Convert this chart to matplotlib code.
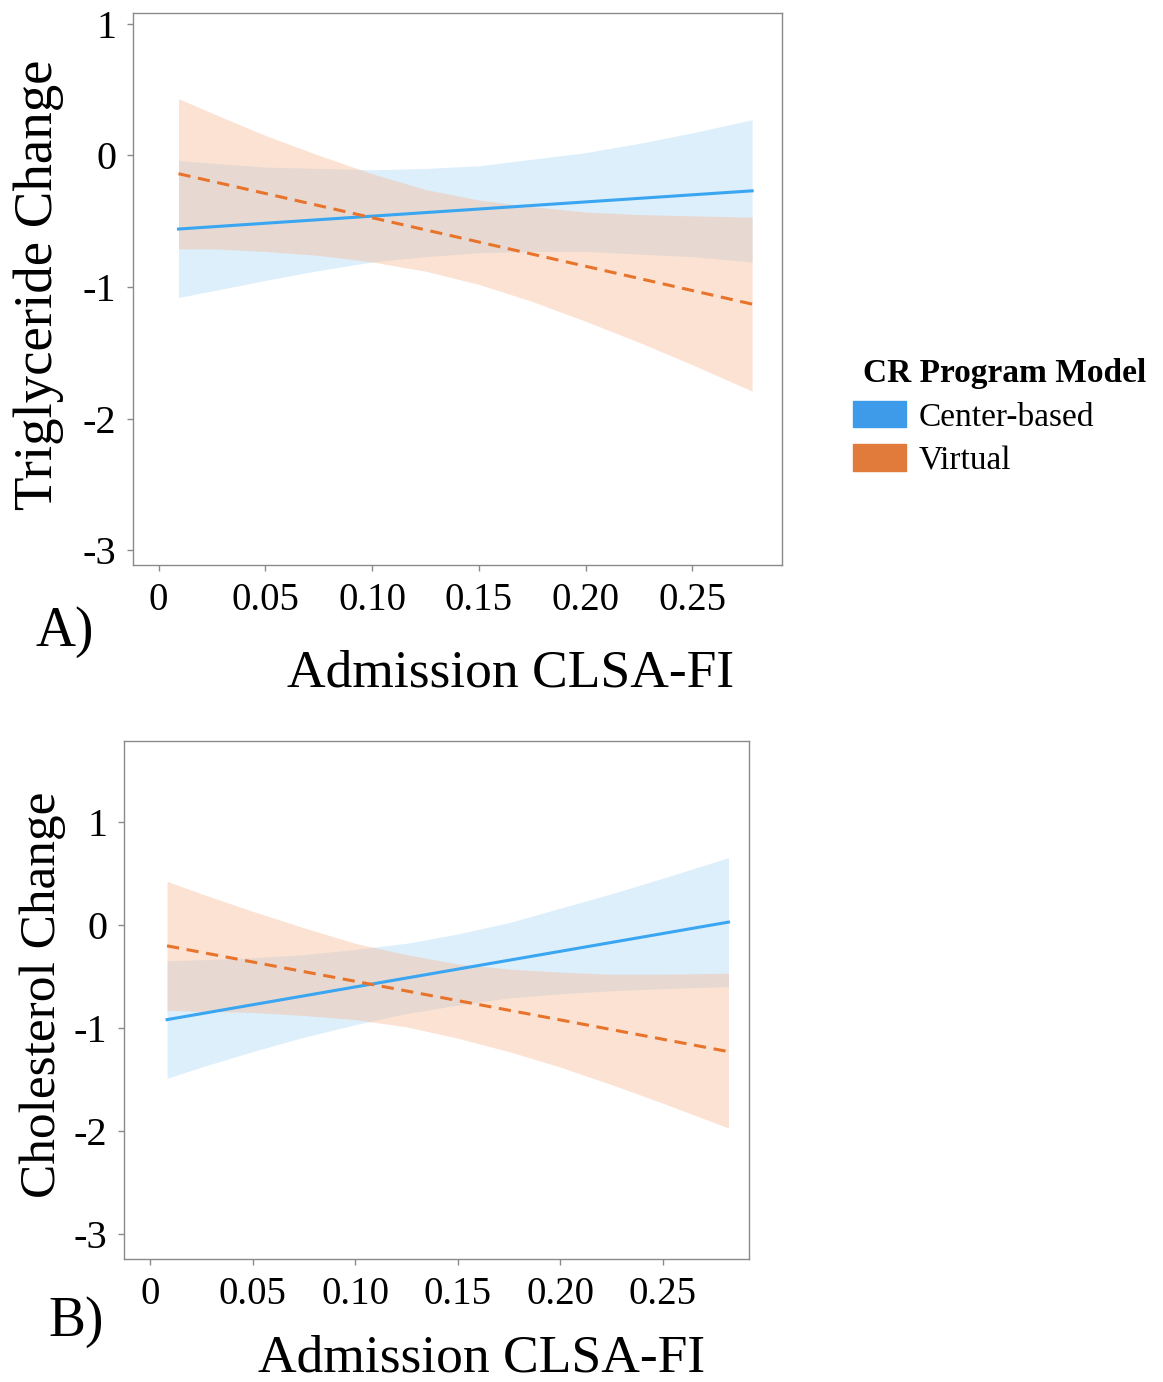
import matplotlib
matplotlib.use("Agg")
import matplotlib.pyplot as plt
from matplotlib.patches import Patch

plt.rcParams["font.family"] = ["Liberation Serif", "DejaVu Serif"]

xa = [0.0093, 0.025, 0.05, 0.075, 0.10, 0.125, 0.15, 0.175, 0.20, 0.225, 0.25, 0.278]
xb = [0.0083, 0.025, 0.05, 0.075, 0.10, 0.125, 0.15, 0.175, 0.20, 0.225, 0.25, 0.282]
# fitted lines are straight, so only their end points
xa_ends = [0.0093, 0.278]
xb_ends = [0.0083, 0.282]

# panel A - triglyceride
trig_center_fit = [-0.56, -0.27]
trig_center_lo = [-1.08, -1.03, -0.95, -0.875, -0.81, -0.77, -0.74, -0.73, -0.73, -0.75, -0.77, -0.81]
trig_center_hi = [-0.04, -0.06, -0.09, -0.10, -0.11, -0.10, -0.08, -0.03, 0.02, 0.09, 0.17, 0.27]
trig_virtual_fit = [-0.14, -1.13]
trig_virtual_lo = [-0.71, -0.71, -0.73, -0.76, -0.81, -0.88, -0.98, -1.11, -1.26, -1.42, -1.59, -1.79]
trig_virtual_hi = [0.43, 0.32, 0.15, 0.0, -0.14, -0.26, -0.34, -0.39, -0.43, -0.45, -0.46, -0.47]

# panel B - cholesterol
chol_center_fit = [-0.92, 0.025]
chol_center_lo = [-1.49, -1.38, -1.23, -1.09, -0.97, -0.86, -0.78, -0.71, -0.67, -0.64, -0.62, -0.60]
chol_center_hi = [-0.35, -0.34, -0.32, -0.29, -0.24, -0.18, -0.09, 0.02, 0.16, 0.30, 0.45, 0.65]
chol_virtual_fit = [-0.205, -1.23]
chol_virtual_lo = [-0.83, -0.84, -0.85, -0.88, -0.92, -0.99, -1.10, -1.23, -1.38, -1.55, -1.73, -1.97]
chol_virtual_hi = [0.42, 0.30, 0.13, -0.03, -0.18, -0.29, -0.38, -0.43, -0.46, -0.48, -0.48, -0.47]

xticks = [0, 0.05, 0.10, 0.15, 0.20, 0.25]
xticklabels = ["0", "0.05", "0.10", "0.15", "0.20", "0.25"]
yticks = [-3, -2, -1, 0, 1]
yticklabels = ["-3", "-2", "-1", "0", "1"]

blue = "#3aa6f2"
orange = "#e8742c"
blue_fill = "#9fd2f5"
orange_fill = "#f7b892"

fig = plt.figure(figsize=(11.63, 13.82), dpi=100)


def panel(ax, x, xe, cfit, clo, chi, vfit, vlo, vhi, xlim, ylim):
    ax.fill_between(x, clo, chi, color=blue_fill, alpha=0.35, lw=0)
    ax.plot(xe, cfit, color=blue, lw=2.2)
    ax.fill_between(x, vlo, vhi, color=orange_fill, alpha=0.4, lw=0)
    ax.plot(xe, vfit, color=orange, lw=2.2, ls=(0, (4, 2.5)))
    ax.set_xlim(*xlim)
    ax.set_ylim(*ylim)
    ax.set_xticks(xticks)
    ax.set_xticklabels(xticklabels, fontsize=28)
    ax.set_yticks(yticks)
    ax.set_yticklabels(yticklabels, fontsize=29)
    for s in ax.spines.values():
        s.set_color("#8a8a8a")
        s.set_linewidth(1.0)
    ax.tick_params(color="#8a8a8a", length=4, width=1, pad=8)


ax1 = fig.add_axes([0.1144, 0.5912, 0.558, 0.3994])
panel(ax1, xa, xa_ends, trig_center_fit, trig_center_lo, trig_center_hi,
      trig_virtual_fit, trig_virtual_lo, trig_virtual_hi,
      (-0.012, 0.292), (-3.11, 1.08))

ax2 = fig.add_axes([0.1066, 0.0890, 0.5374, 0.3748])
panel(ax2, xb, xb_ends, chol_center_fit, chol_center_lo, chol_center_hi,
      chol_virtual_fit, chol_virtual_lo, chol_virtual_hi,
      (-0.0127, 0.292), (-3.24, 1.78))

# axis titles and panel letters
fig.text(0.033, 1 - 285 / 1382, "Triglyceride Change", rotation=90,
         ha="center", va="center", fontsize=39.5)
fig.text(511 / 1163, 1 - 673 / 1382, "Admission CLSA-FI",
         ha="center", va="center", fontsize=38.5)
fig.text(35 / 1163, 1 - 632 / 1382, "A)", ha="left", va="center", fontsize=40)

fig.text(0.037, 1 - 995 / 1382, "Cholesterol Change", rotation=90,
         ha="center", va="center", fontsize=37)
fig.text(482 / 1163, 1 - 1358 / 1382, "Admission CLSA-FI",
         ha="center", va="center", fontsize=38.5)
fig.text(48 / 1163, 1 - 1322 / 1382, "B)", ha="left", va="center", fontsize=40)

# legend
handles = [Patch(color="#3d9be9", label="Center-based"),
           Patch(color="#e07b3c", label="Virtual")]
leg = fig.legend(handles=handles, loc="upper left",
                 bbox_to_anchor=(823 / 1163, 1 - 328 / 1382),
                 frameon=False, fontsize=24, title="CR Program Model",
                 title_fontproperties={"weight": "bold", "size": 24},
                 handlelength=1.6, handleheight=0.85, handletextpad=0.36,
                 labelspacing=0.35, alignment="left")
leg.get_title().set_position((10, 0))

fig.savefig("out.png", dpi=100)
